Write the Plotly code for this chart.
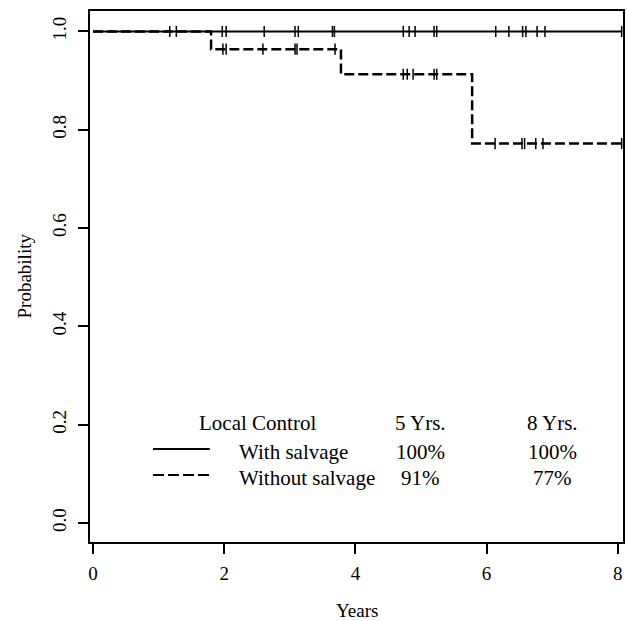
import plotly.graph_objects as go

# ---- data ----
with_time = [0.0, 8.06]
with_surv = [1.0, 1.0]
with_censor = [1.17, 1.27, 1.97, 2.03, 2.61, 3.08, 3.13, 3.65, 3.68, 4.73, 4.82,
               4.91, 5.20, 5.24, 6.14, 6.34, 6.55, 6.60, 6.77, 6.89, 8.06]

without_time = [0.0, 1.80, 3.78, 5.78, 8.06]
without_surv = [1.0, 0.964, 0.913, 0.772, 0.772]
without_censor = [1.98, 2.03, 2.59, 3.08, 3.11, 3.69, 4.73, 4.79, 4.88, 5.20,
                  5.24, 6.13, 6.54, 6.58, 6.75, 6.86, 8.06]

x_ticks = [0, 2, 4, 6, 8]
y_ticks = [0.0, 0.2, 0.4, 0.6, 0.8, 1.0]
y_ticklabels = ["0.0", "0.2", "0.4", "0.6", "0.8", "1.0"]

legend_header = ["Local Control", "5 Yrs.", "8 Yrs."]
legend_rows = [["With salvage", "100%", "100%"],
               ["Without salvage", "91%", "77%"]]


def step_value(times, surv, t):
    v = surv[0]
    for ti, si in zip(times, surv):
        if ti <= t:
            v = si
    return v


FONT = "Liberation Serif"
fig = go.Figure()

fig.add_trace(go.Scatter(x=with_time, y=with_surv, mode="lines", line_shape="hv",
                         line=dict(color="black", width=2), showlegend=False,
                         hoverinfo="skip"))
fig.add_trace(go.Scatter(x=without_time, y=without_surv, mode="lines", line_shape="hv",
                         line=dict(color="black", width=2.5, dash="10px,4px"),
                         showlegend=False, hoverinfo="skip"))
fig.add_trace(go.Scatter(x=with_censor,
                         y=[step_value(with_time, with_surv, t) for t in with_censor],
                         mode="markers",
                         marker=dict(symbol="line-ns", size=8,
                                     line=dict(color="black", width=1.5)),
                         showlegend=False, hoverinfo="skip", cliponaxis=False))
fig.add_trace(go.Scatter(x=without_censor,
                         y=[step_value(without_time, without_surv, t) for t in without_censor],
                         mode="markers",
                         marker=dict(symbol="line-ns", size=8,
                                     line=dict(color="black", width=1.5)),
                         showlegend=False, hoverinfo="skip", cliponaxis=False))

# ---- custom legend table ----
tfont = dict(family=FONT, size=21, color="black")
fig.add_annotation(x=1.585, y=0.2035, text=legend_header[0], showarrow=False,
                   xanchor="left", yanchor="middle", font=tfont)
fig.add_annotation(x=5.0, y=0.2035, text=legend_header[1], showarrow=False,
                   xanchor="center", yanchor="middle", font=tfont)
fig.add_annotation(x=7.0, y=0.2035, text=legend_header[2], showarrow=False,
                   xanchor="center", yanchor="middle", font=tfont)
row_y = [0.1445, 0.0916]
row_dash = ["solid", "11px,4px"]
for ry, row, dsh in zip(row_y, legend_rows, row_dash):
    fig.add_shape(type="line", x0=0.915, x1=1.78, y0=ry + 0.006, y1=ry + 0.006,
                  xref="x", yref="y", line=dict(color="black", width=2, dash=dsh))
    fig.add_annotation(x=2.195, y=ry, text=row[0], showarrow=False,
                       xanchor="left", yanchor="middle", font=tfont)
    fig.add_annotation(x=5.0, y=ry, text=row[1], showarrow=False,
                       xanchor="center", yanchor="middle", font=tfont)
    fig.add_annotation(x=7.0, y=ry, text=row[2], showarrow=False,
                       xanchor="center", yanchor="middle", font=tfont)

# ---- axis titles ----
title_font = dict(family=FONT, size=19, color="black")
fig.add_annotation(x=0.5, y=0, xref="paper", yref="paper", text="Years",
                   showarrow=False, yshift=-68, xanchor="center", yanchor="middle",
                   font=title_font)
fig.add_annotation(x=0, y=0.5, xref="paper", yref="paper", text="Probability",
                   showarrow=False, xshift=-66, textangle=-90,
                   xanchor="center", yanchor="middle", font=title_font)

axis_common = dict(showline=True, linecolor="black", linewidth=2, mirror=True,
                   ticks="outside", ticklen=10, tickwidth=2, tickcolor="black",
                   showgrid=False, zeroline=False, automargin=False,
                   tickfont=dict(family=FONT, size=19, color="black"))

fig.update_layout(
    width=627, height=621,
    margin=dict(l=90, r=4, t=11, b=79),
    paper_bgcolor="white", plot_bgcolor="white",
    xaxis=dict(range=[-0.046, 8.08], tickvals=x_ticks, ticklabelstandoff=3,
               **axis_common),
    yaxis=dict(range=[-0.0387, 1.0417], tickvals=y_ticks, ticktext=y_ticklabels,
               tickangle=-90, ticklabelstandoff=4, **axis_common),
)

fig.write_html("out.html",
               config={"displayModeBar": False},
               post_script="document.body.style.margin='0';"
                           "document.body.style.overflow='hidden';")
